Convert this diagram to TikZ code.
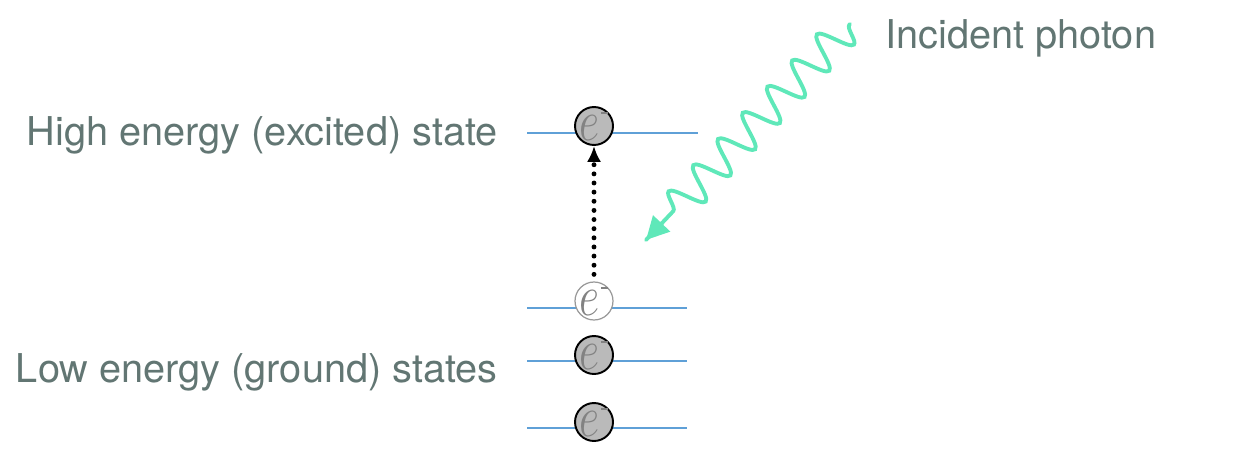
\documentclass[tikz,border=0pt]{standalone}
\usepackage{fix-cm}
\usepackage{fontspec}
\setmainfont{TeX Gyre Heros}
\usepackage{xcolor}
\usepackage{tikz}
\usetikzlibrary{arrows.meta,positioning,calc,decorations.pathmorphing}
\definecolor{labelgray}{RGB}{98,118,115}
\definecolor{levelblue}{RGB}{95,160,215}
\definecolor{photon}{RGB}{95,232,185}
\definecolor{electronfill}{RGB}{186,186,186}
\definecolor{electrontext}{RGB}{130,130,130}
\newcommand{\echarge}{\scalebox{0.76}[1]{$e$}\kern0.6pt\raisebox{15pt}{\rule{4.2pt}{1.1pt}}}

\begin{document}
\begin{tikzpicture}[
    x=0.02cm, y=-0.02cm,
    level/.style={draw=levelblue, line width=0.8pt},
    electron/.style={circle, draw=black, line width=1.1pt, fill=electronfill, minimum size=0.76cm, inner sep=0pt,
        label={[text=electrontext, font=\fontsize{33}{33}\selectfont, inner sep=0pt]center:\echarge}},
    freeelectron/.style={electron, draw=gray!80, line width=0.7pt, fill=white},
    statelabel/.style={text=labelgray, font=\fontsize{22.6}{27}\selectfont, inner sep=0pt},
    jump/.style={-{Latex[length=9pt,width=8pt]}, line width=2.8pt, dash pattern=on 0pt off 5.2pt, line cap=round},
    wave/.style={photon, line width=2.2pt, line cap=round,
        decorate, decoration={snake, amplitude=0.34cm, segment length=0.72cm, pre length=0.02cm, post length=0.45cm}}
]
    \useasboundingbox (0,0) rectangle (1260,473);

    % Energy levels
    \coordinate (hiL) at (527,133);
    \coordinate (lowL) at (527,308);
    \draw[level] (hiL) -- (698,133);
    \draw[level] (lowL) -- (687,308);
    \draw[level] (527,361) -- (687,361);
    \draw[level] (527,428) -- (687,428);

    % Electrons
    \node[electron] (ehigh) at (594,126) {};
    \node[freeelectron] (efree) at (594,301) {};
    \node[electron] (emid) at (594,355) {};
    \node[electron] (elow) at (594,422) {};

    % Excitation
    \draw[jump, shorten <=4pt] (efree) -- (ehigh);

    % Incident photon
    \coordinate (photonstart) at (850,24);
    \coordinate (photonend) at (646,240);
    \draw[wave] (photonstart) -- (photonend);
    \draw[photon, line width=2.2pt, -{Triangle[length=13pt,width=13pt]}] ($(photonend)!0.08!(photonstart)$) -- (photonend);

    % Labels
    \node[statelabel, anchor=east, left=0.58cm of hiL, yshift=-0.04cm] (highlabel) {High energy (excited) state};
    \node[statelabel, anchor=east] (lowlabel) at (498,372) {Low energy (ground) states};
    \node[statelabel, anchor=west] (photonlabel) at (885,38) {Incident photon};
\end{tikzpicture}
\end{document}
